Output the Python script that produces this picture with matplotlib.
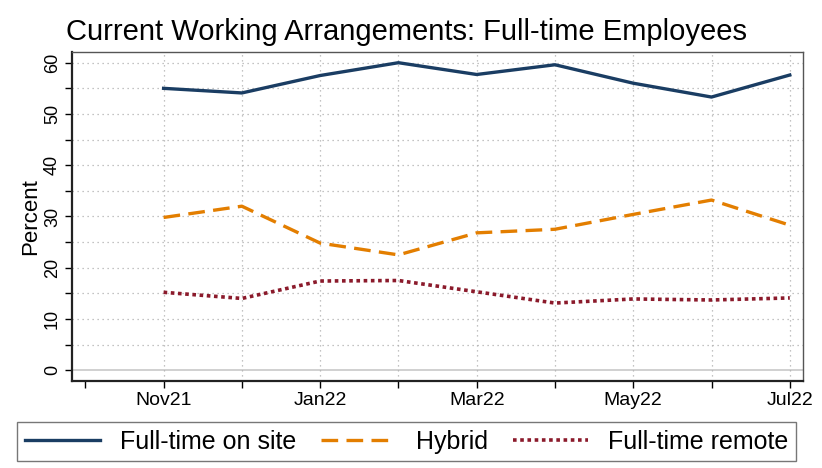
import numpy as np
import matplotlib.pyplot as plt

plt.rcParams['font.family'] = ['Liberation Sans', 'DejaVu Sans']

months = ["Nov21", "Dec21", "Jan22", "Feb22", "Mar22", "Apr22", "May22", "Jun22", "Jul22"]
on_site = [55.0, 54.1, 57.5, 60.0, 57.7, 59.6, 56.0, 53.3, 57.6]
hybrid = [29.8, 32.0, 24.8, 22.5, 26.8, 27.5, 30.4, 33.2, 28.3]
remote = [15.2, 14.0, 17.4, 17.5, 15.3, 13.1, 13.9, 13.7, 14.1]
tick_labels = ["Nov21", "Jan22", "Mar22", "May22", "Jul22"]

navy = "#1a3d63"
orange = "#e37e00"
maroon = "#8b1a2b"

fig = plt.figure(figsize=(8.22, 4.68), dpi=100)
ax = fig.add_axes([0.0876, 0.186, 0.8894, 0.703])

x = np.arange(len(months))

# grid first so lines sit on top
for v in range(0, 65, 5):
    if v == 0:
        ax.axhline(v, color="#c8c8c8", lw=1.2, zorder=1)
    else:
        ax.axhline(v, color="#b0b0b0", lw=0.9, ls=(0, (1, 3)), zorder=1)
for xi in x:
    ax.axvline(xi, color="#b0b0b0", lw=0.9, ls=(0, (1, 3)), zorder=1)

ax.plot(x, on_site, color=navy, lw=2.4, label="Full-time on site", zorder=3)
ax.plot(x, hybrid, color=orange, lw=2.4, ls=(0, (5, 2.5)), label="Hybrid", zorder=3)
ax.plot(x, remote, color=maroon, lw=2.6, ls=(0, (1, 1)), label="Full-time remote", zorder=3)

ax.set_xlim(-1.17, 8.17)
ax.set_ylim(-2.1, 62.1)

ax.set_xticks(np.arange(-1, 9))
ax.set_xticklabels(["" if m not in tick_labels else m for m in ["Oct21"] + months])
ax.set_yticks(range(0, 61, 10))
ax.set_yticks(range(5, 60, 10), minor=True)
ax.tick_params(axis="x", labelsize=14, length=5, width=1, pad=3)
ax.tick_params(axis="y", which="major", labelsize=13, length=5, width=1, labelrotation=90, pad=3)
ax.tick_params(axis="y", which="minor", length=5, width=1)
for lab in ax.get_yticklabels():
    lab.set_va("center")

for s in ["left", "bottom"]:
    ax.spines[s].set_linewidth(1.6)
    ax.spines[s].set_color("#222222")
for s in ["top", "right"]:
    ax.spines[s].set_linewidth(1.0)
    ax.spines[s].set_color("#555555")

ax.set_ylabel("Percent", fontsize=16, labelpad=2)

fig.text(0.494, 0.932, "Current Working Arrangements: Full-time Employees",
         fontsize=21, ha="center", va="center")

fig.legend(loc="center", bbox_to_anchor=(0.4945, 0.0566), ncol=3, fontsize=18,
           frameon=True, fancybox=False, edgecolor="#555555", handlelength=3.0,
           handletextpad=0.8, columnspacing=1.0, borderpad=0.3, borderaxespad=0)

fig.savefig("out.png", dpi=100)
